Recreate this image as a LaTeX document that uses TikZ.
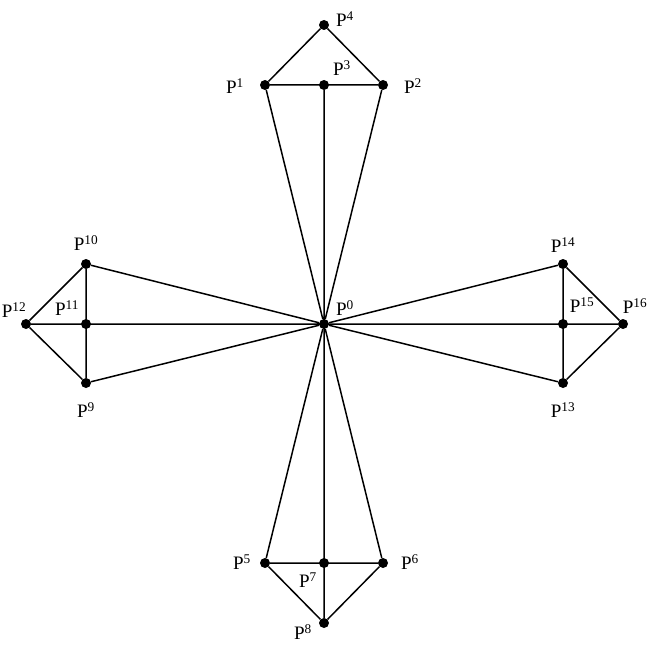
\documentclass[tikz,border=0pt]{standalone}
\usepackage{fontspec}
\setmainfont{Liberation Serif}
\begin{document}
\begin{tikzpicture}[x=1pt,y=-1pt,
  dot/.style={circle,fill=black,inner sep=0pt,minimum size=10pt},
  lab/.style={font=\fontsize{19}{20}\selectfont,inner sep=0pt},
  edge/.style={line width=1.5pt}]
\useasboundingbox (0,0) rectangle (650,650);
\foreach \n/\x/\y in {0/324/324,1/265/85,2/383/85,3/324/85,4/324/25,5/265/563,6/383/563,7/324/563,8/324/623,9/86/383,10/86/264,11/86/324,12/26/324,13/563/383,14/563/264,15/563/324,16/623/324}
  \node[dot] (p\n) at (\x,\y) {};
\draw[edge] (p1)--(p4)--(p2)--(p1) (p3)--(p8) (p1)--(p0)--(p2);
\draw[edge] (p5)--(p8)--(p6)--(p5) (p5)--(p0)--(p6);
\draw[edge] (p10)--(p12)--(p9)--(p10) (p12)--(p16) (p10)--(p0)--(p9);
\draw[edge] (p14)--(p16)--(p13)--(p14) (p14)--(p0)--(p13);
\foreach \n/\x/\y in {0/345/308,1/235/86,2/413/86,3/342/68,4/345/19,5/242/562,6/410/562,7/308/580,8/303/632,9/86/410,10/86/243,11/67/308,12/14/310,13/563/410,14/563/245,15/582/305,16/635/306}
  \node[lab] (l\n) at (\x,\y) {P\textsuperscript{\n}};
\end{tikzpicture}
\end{document}
